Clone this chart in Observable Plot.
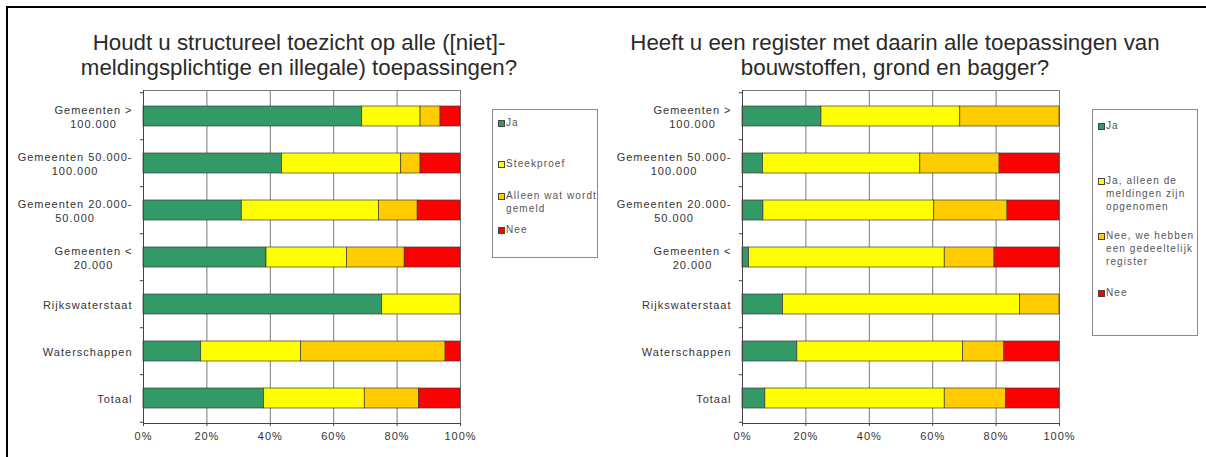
<!DOCTYPE html>
<html>
<head>
<meta charset="utf-8">
<script src="https://cdn.jsdelivr.net/npm/d3@7"></script>
<script src="https://cdn.jsdelivr.net/npm/@observablehq/plot@0.6"></script>
<style>
  html, body { margin: 0; padding: 0; background: #fff; }
  #page { position: relative; width: 1206px; height: 457px; overflow: hidden; font-family: "Liberation Sans", Arial, sans-serif; }
  #frame { position: absolute; left: 6px; top: 6px; right: -10px; bottom: -10px; border-top: 2px solid #000; border-left: 2px solid #000; }
  .title { position: absolute; text-align: center; font-size: 22.3px; line-height: 25px; color: #2a2a2a; white-space: pre-line; }
  .chart { position: absolute; }
  .legend { position: absolute; border: 1px solid #8a8a8a; box-sizing: border-box; background: #fff; }
  .item { position: absolute; left: 5px; font-size: 10px; line-height: 13px; color: #555; letter-spacing: 1.1px; white-space: pre; padding-left: 8px; }
  .sw { position: absolute; left: 0; top: 4px; width: 5px; height: 5px; border: 1px solid #444; box-sizing: content-box; }
</style>
</head>
<body>
<div id="page">
  <div id="frame"></div>
</div>
<script>
// ---------- data ----------
const categories = [
  "Gemeenten >\n100.000",
  "Gemeenten 50.000-\n100.000",
  "Gemeenten 20.000-\n50.000",
  "Gemeenten <\n20.000",
  "Rijkswaterstaat",
  "Waterschappen",
  "Totaal"
];

const leftTitle = "Houdt u structureel toezicht op alle ([niet]-\nmeldingsplichtige en illegale) toepassingen?";
const leftSeries = ["Ja", "Steekproef", "Alleen wat wordt\ngemeld", "Nee"];
const leftJa         = [69.0, 43.7, 31.0, 38.8, 75.3, 18.2, 38.0];
const leftSteekproef = [18.4, 37.6, 43.3, 25.4, 24.7, 31.5, 31.8];
const leftAlleen     = [ 6.3,  6.1, 12.2, 18.2,  0.0, 45.6, 17.1];
const leftNee        = [ 6.3, 12.6, 13.5, 17.6,  0.0,  4.7, 13.1];

const rightTitle = "Heeft u een register met daarin alle toepassingen van\nbouwstoffen, grond en bagger?";
const rightSeries = ["Ja", "Ja, alleen de\nmeldingen zijn\nopgenomen", "Nee, we hebben\neen gedeeltelijk\nregister", "Nee"];
const rightJa           = [24.9,  6.5,  6.6,  2.1, 12.8, 17.3,  7.2];
const rightJaAlleen     = [43.8, 49.6, 53.9, 61.7, 74.8, 52.3, 56.6];
const rightGedeeltelijk = [31.3, 25.0, 23.1, 15.7, 12.4, 13.0, 19.4];
const rightNee          = [ 0.0, 18.9, 16.4, 20.5,  0.0, 17.4, 16.8];

const colors = ["#339966", "#FFFF00", "#FFCC00", "#FF0000"];
const xTicks = [0, 0.2, 0.4, 0.6, 0.8, 1];

// ---------- drawing ----------
const page = document.getElementById("page");

function chart(series, values, opts) {
  const H = 377, mt = 10, mb = 34;
  const step = (H - mt - mb) / categories.length;
  const data = series.flatMap((s, j) => categories.map((c, i) => ({cat: c, series: s, value: values[j][i]})));
  const svg = Plot.plot({
    width: opts.width, height: H,
    marginLeft: opts.marginLeft, marginRight: opts.marginRight, marginTop: mt, marginBottom: mb,
    style: {fontFamily: "'Liberation Sans', Arial, sans-serif", fontSize: "11px", color: "#333", background: "transparent", letterSpacing: "1px", overflow: "visible"},
    x: {domain: [0, 1], label: null},
    y: {domain: categories, paddingInner: 0.58, paddingOuter: 0.29, label: null},
    color: {domain: series, range: colors},
    marks: [
      Plot.gridX(xTicks, {stroke: "#7a7a7a", strokeOpacity: 1}),
      Plot.frame({stroke: "#7a7a7a"}),
      Plot.barX(data, Plot.stackX({x: "value", y: "cat", fill: "series", offset: "normalize", order: series, stroke: "#3a3a3a", strokeWidth: 0.7})),
      Plot.ruleX([0], {stroke: "#444"}),
      Plot.ruleY(categories, {y: d => d, x1: -0.01, x2: 0, dy: -step / 2, stroke: "#444"}),
      Plot.ruleY(categories.slice(-1), {y: d => d, x1: -0.01, x2: 0, dy: step / 2, stroke: "#444"}),
      Plot.frame({anchor: "bottom", stroke: "#444"}),
      Plot.axisX(xTicks, {tickSize: 3, tickPadding: 6, stroke: "#444", tickFormat: d3.format(".0%"), label: null}),
      Plot.axisY({tickSize: 0, tickPadding: 11, lineHeight: 1.25, label: null})
    ]
  });
  svg.classList.add("chart");
  svg.style.left = opts.left + "px";
  svg.style.top = opts.top + "px";
  page.appendChild(svg);
  // centre the lines of each category label within its right-aligned block
  svg.querySelectorAll('g[aria-label="y-axis tick label"] text').forEach(t => {
    const w = t.getBBox().width;
    t.setAttribute("text-anchor", "middle");
    t.setAttribute("transform", (t.getAttribute("transform") || "") + ` translate(${-w / 2},0)`);
  });
}

function title(text, left, width) {
  const d = document.createElement("div");
  d.className = "title";
  d.style.left = left + "px";
  d.style.width = width + "px";
  d.style.top = "30px";
  d.textContent = text;
  page.appendChild(d);
}

function legend(series, box, tops) {
  const L = document.createElement("div");
  L.className = "legend";
  Object.assign(L.style, {left: box[0] + "px", top: box[1] + "px", width: box[2] + "px", height: box[3] + "px"});
  series.forEach((s, i) => {
    const it = document.createElement("div");
    it.className = "item";
    it.style.top = tops[i] + "px";
    const sw = document.createElement("span");
    sw.className = "sw";
    sw.style.background = colors[i];
    it.appendChild(sw);
    it.appendChild(document.createTextNode(s));
    L.appendChild(it);
  });
  page.appendChild(L);
}

title(leftTitle, 40, 518);
title(rightTitle, 580, 630);

chart(leftSeries, [leftJa, leftSteekproef, leftAlleen, leftNee], {left: 0, top: 80, width: 480, marginLeft: 143, marginRight: 20});
chart(rightSeries, [rightJa, rightJaAlleen, rightGedeeltelijk, rightNee], {left: 600, top: 80, width: 480, marginLeft: 142, marginRight: 21});

legend(leftSeries, [492, 109, 106, 149], [6, 47, 79, 113]);
legend(rightSeries, [1092, 109, 106, 227], [9, 64, 119, 176]);
</script>
</body>
</html>
